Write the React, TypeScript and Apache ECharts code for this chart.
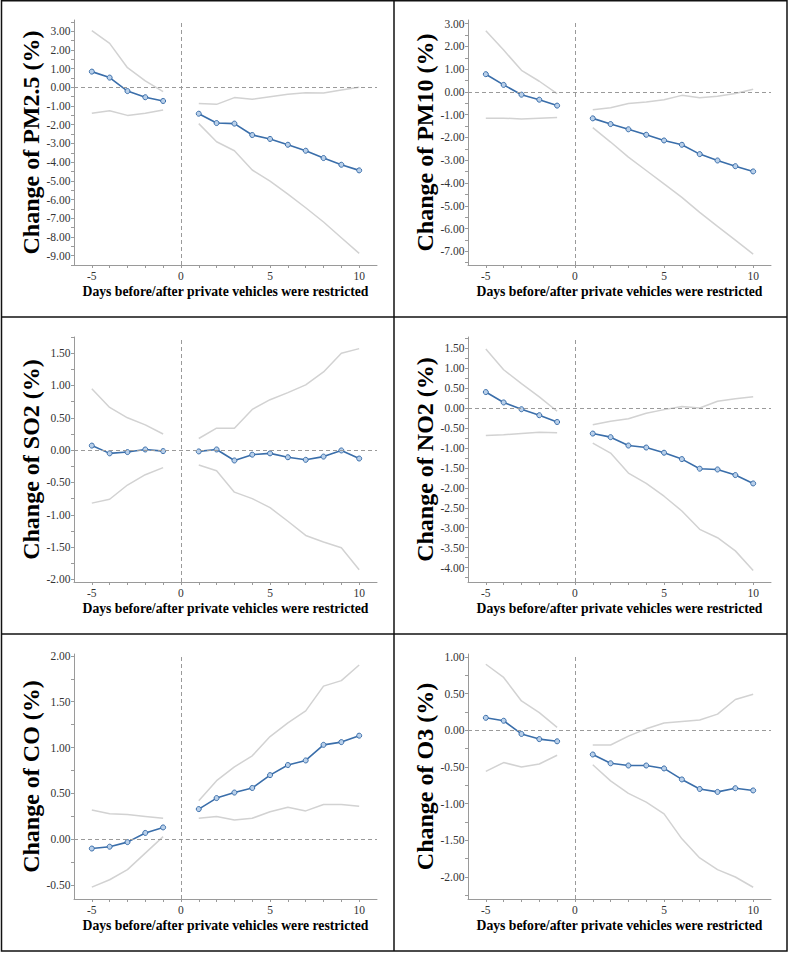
import React, { useEffect, useRef } from "react";
import * as echarts from "echarts";

// Days relative to restriction (day 0 excluded)
const days = [-5, -4, -3, -2, -1, 1, 2, 3, 4, 5, 6, 7, 8, 9, 10];
const xTickLabels = [-5, 0, 5, 10];
const xTickMarks = [-5, -4, -3, -2, -1, 0, 1, 2, 3, 4, 5, 6, 7, 8, 9, 10];

// PM2.5
const pm25Est = [0.84, 0.52, -0.2, -0.53, -0.73, -1.41, -1.91, -1.94, -2.55, -2.76, -3.07, -3.39, -3.78, -4.14, -4.44];
const pm25Up = [3.03, 2.35, 1.05, 0.34, -0.23, -0.86, -0.91, -0.55, -0.64, -0.5, -0.37, -0.29, -0.3, -0.14, 0.0];
const pm25Lo = [-1.39, -1.25, -1.5, -1.39, -1.21, -1.94, -2.91, -3.39, -4.42, -5.01, -5.71, -6.44, -7.2, -8.04, -8.88];
const pm25YTicks = [-9, -8, -7, -6, -5, -4, -3, -2, -1, 0, 1, 2, 3];

// PM10
const pm10Est = [0.78, 0.31, -0.12, -0.34, -0.6, -1.16, -1.41, -1.64, -1.88, -2.13, -2.32, -2.73, -3.01, -3.26, -3.49];
const pm10Up = [2.69, 1.84, 0.95, 0.47, -0.07, -0.78, -0.69, -0.51, -0.44, -0.34, -0.15, -0.25, -0.19, -0.07, 0.12];
const pm10Lo = [-1.15, -1.15, -1.19, -1.15, -1.12, -1.57, -2.2, -2.86, -3.45, -4.04, -4.63, -5.29, -5.9, -6.51, -7.12];
const pm10YTicks = [-7, -6, -5, -4, -3, -2, -1, 0, 1, 2, 3];

// SO2
const so2Est = [0.07, -0.05, -0.03, 0.01, -0.015, -0.02, 0.01, -0.16, -0.07, -0.05, -0.11, -0.15, -0.1, -0.005, -0.13];
const so2Up = [0.95, 0.66, 0.5, 0.39, 0.25, 0.18, 0.34, 0.34, 0.63, 0.78, 0.89, 1.01, 1.21, 1.5, 1.57];
const so2Lo = [-0.82, -0.76, -0.54, -0.38, -0.27, -0.23, -0.32, -0.65, -0.75, -0.89, -1.1, -1.32, -1.42, -1.51, -1.85];
const so2YTicks = [-2, -1.5, -1, -0.5, 0, 0.5, 1, 1.5];

// NO2
const no2Est = [0.4, 0.14, -0.03, -0.18, -0.35, -0.64, -0.73, -0.94, -0.99, -1.12, -1.28, -1.52, -1.54, -1.68, -1.89];
const no2Up = [1.48, 0.96, 0.61, 0.28, -0.08, -0.42, -0.33, -0.27, -0.13, -0.04, 0.04, 0.0, 0.17, 0.23, 0.28];
const no2Lo = [-0.69, -0.67, -0.64, -0.61, -0.62, -0.88, -1.13, -1.63, -1.89, -2.21, -2.58, -3.04, -3.25, -3.58, -4.07];
const no2YTicks = [-4, -3.5, -3, -2.5, -2, -1.5, -1, -0.5, 0, 0.5, 1, 1.5];

// CO
const coEst = [-0.1, -0.08, -0.03, 0.07, 0.13, 0.33, 0.45, 0.51, 0.56, 0.7, 0.81, 0.86, 1.03, 1.06, 1.13];
const coUp = [0.32, 0.28, 0.27, 0.25, 0.23, 0.42, 0.64, 0.79, 0.91, 1.12, 1.27, 1.4, 1.67, 1.73, 1.9];
const coLo = [-0.52, -0.44, -0.33, -0.15, 0.03, 0.23, 0.25, 0.21, 0.23, 0.3, 0.35, 0.31, 0.38, 0.38, 0.36];
const coYTicks = [-0.5, 0, 0.5, 1, 1.5, 2];

// O3
const o3Est = [0.17, 0.13, -0.05, -0.12, -0.15, -0.33, -0.45, -0.48, -0.48, -0.52, -0.67, -0.8, -0.84, -0.79, -0.82];
const o3Up = [0.9, 0.72, 0.4, 0.24, 0.04, -0.2, -0.2, -0.08, 0.02, 0.1, 0.12, 0.14, 0.22, 0.42, 0.49];
const o3Lo = [-0.56, -0.44, -0.5, -0.46, -0.34, -0.47, -0.69, -0.86, -0.98, -1.14, -1.48, -1.74, -1.9, -2.0, -2.14];
const o3YTicks = [-2, -1.5, -1, -0.5, 0, 0.5, 1];

const panels = [
  { name: "Change of PM2.5 (%)", est: pm25Est, up: pm25Up, lo: pm25Lo, yTicks: pm25YTicks, yMin: -9.5, yMax: 3.6 },
  { name: "Change of PM10 (%)", est: pm10Est, up: pm10Up, lo: pm10Lo, yTicks: pm10YTicks, yMin: -7.6, yMax: 3.16 },
  { name: "Change of SO2 (%)", est: so2Est, up: so2Up, lo: so2Lo, yTicks: so2YTicks, yMin: -2.04, yMax: 1.75 },
  { name: "Change of NO2 (%)", est: no2Est, up: no2Up, lo: no2Lo, yTicks: no2YTicks, yMin: -4.36, yMax: 1.78 },
  { name: "Change of CO (%)", est: coEst, up: coUp, lo: coLo, yTicks: coYTicks, yMin: -0.65, yMax: 2.02 },
  { name: "Change of O3 (%)", est: o3Est, up: o3Up, lo: o3Lo, yTicks: o3YTicks, yMin: -2.3, yMax: 1.04 },
];

const XNAME = "Days before/after private vehicles were restricted";
const SERIF = "'Liberation Serif', 'Times New Roman', serif";
const BLUE = "#3a6eaa";
const GREY = "#d2d2d2";
const AXIS = "#9a9a9a";

function pairs(vals: number[], pre: boolean) {
  const out: [number, number][] = [];
  days.forEach((d, i) => {
    if (pre ? d < 0 : d > 0) out.push([d, vals[i]]);
  });
  return out;
}

function halfTicks(ticks: number[]) {
  const step = ticks[1] - ticks[0];
  const out: number[] = [];
  const lo = ticks[0] - step / 2;
  for (let k = 0; k <= (ticks.length) * 2; k++) {
    out.push(Math.round((lo + (k * step) / 2) * 1000) / 1000);
  }
  return out;
}

export default function App() {
  const ref = useRef<HTMLDivElement>(null);
  useEffect(() => {
    if (!ref.current) return;
    const chart = echarts.init(ref.current, undefined, { renderer: "svg" });
    const grid: any[] = [];
    const xAxis: any[] = [];
    const yAxis: any[] = [];
    const series: any[] = [];
    panels.forEach((p, i) => {
      const col = i % 2;
      const row = Math.floor(i / 2);
      grid.push({ left: col * 394 + 74, top: row * 317 + 20, width: 303, height: 245 });
      xAxis.push({
        type: "value",
        gridIndex: i,
        min: -6,
        max: 11,
        axisLine: { show: true, onZero: false, lineStyle: { color: AXIS, width: 1 } },
        axisTick: { show: true, length: 3, customValues: xTickMarks, lineStyle: { color: AXIS } },
        axisLabel: {
          customValues: xTickLabels,
          fontFamily: SERIF,
          fontSize: 11.5,
          color: "#333",
          margin: 5,
        },
        splitLine: { show: false },
        name: XNAME,
        nameLocation: "middle",
        nameGap: 19,
        nameTextStyle: { fontFamily: SERIF, fontWeight: "bold", fontSize: 13.7, color: "#000" },
      });
      const tickVals = halfTicks(p.yTicks).filter((v) => v >= p.yMin && v <= p.yMax);
      yAxis.push({
        type: "value",
        gridIndex: i,
        min: p.yMin,
        max: p.yMax,
        axisLine: { show: true, onZero: false, lineStyle: { color: AXIS, width: 1 } },
        axisTick: { show: true, length: 3, customValues: tickVals, lineStyle: { color: AXIS } },
        axisLabel: {
          customValues: p.yTicks,
          formatter: (v: number) => v.toFixed(2),
          fontFamily: SERIF,
          fontSize: 11.5,
          color: "#333",
          margin: 3.5,
        },
        splitLine: { show: false },
        name: p.name,
        nameLocation: "middle",
        nameGap: 28,
        nameTextStyle: { fontFamily: SERIF, fontWeight: "bold", fontSize: 24, color: "#000" },
      });
      const ciStyle = { color: GREY, width: 1.5 };
      [p.up, p.lo].forEach((arr, k) => {
        [true, false].forEach((pre) => {
          const s: any = {
            type: "line",
            xAxisIndex: i,
            yAxisIndex: i,
            data: pairs(arr, pre),
            symbol: "none",
            lineStyle: ciStyle,
            itemStyle: { color: GREY },
            z: 2,
            silent: true,
          };
          if (k === 0 && pre) {
            s.markLine = {
              silent: true,
              symbol: ["none", "none"],
              label: { show: false },
              lineStyle: { type: [4, 3], color: "#9a9a9a", width: 1 },
              data: [{ xAxis: 0 }, { yAxis: 0 }],
            };
          }
          series.push(s);
        });
      });
      [true, false].forEach((pre) => {
        series.push({
          type: "line",
          xAxisIndex: i,
          yAxisIndex: i,
          data: pairs(p.est, pre),
          symbol: "circle",
          symbolSize: 5,
          showSymbol: true,
          lineStyle: { color: BLUE, width: 1.6 },
          itemStyle: { color: "#b9d0ea", borderColor: BLUE, borderWidth: 1 },
          z: 3,
          silent: true,
        });
      });
    });
    const lineStyle = { stroke: "#111", lineWidth: 1.5, fill: null };
    const graphic: any[] = [
      { type: "rect", shape: { x: 1.5, y: 0.75, width: 785.5, height: 950.25 }, style: { ...lineStyle, fill: "none" }, silent: true },
      { type: "line", shape: { x1: 394, y1: 0, x2: 394, y2: 951 }, style: lineStyle, silent: true },
      { type: "line", shape: { x1: 1.5, y1: 317, x2: 787, y2: 317 }, style: lineStyle, silent: true },
      { type: "line", shape: { x1: 1.5, y1: 634, x2: 787, y2: 634 }, style: lineStyle, silent: true },
    ];
    chart.setOption({
      animation: false,
      backgroundColor: "#fff",
      grid,
      xAxis,
      yAxis,
      series,
      graphic,
    });
    return () => chart.dispose();
  }, []);
  return <div ref={ref} style={{ position: "absolute", left: 0, top: 0, width: 789, height: 954 }} />;
}
